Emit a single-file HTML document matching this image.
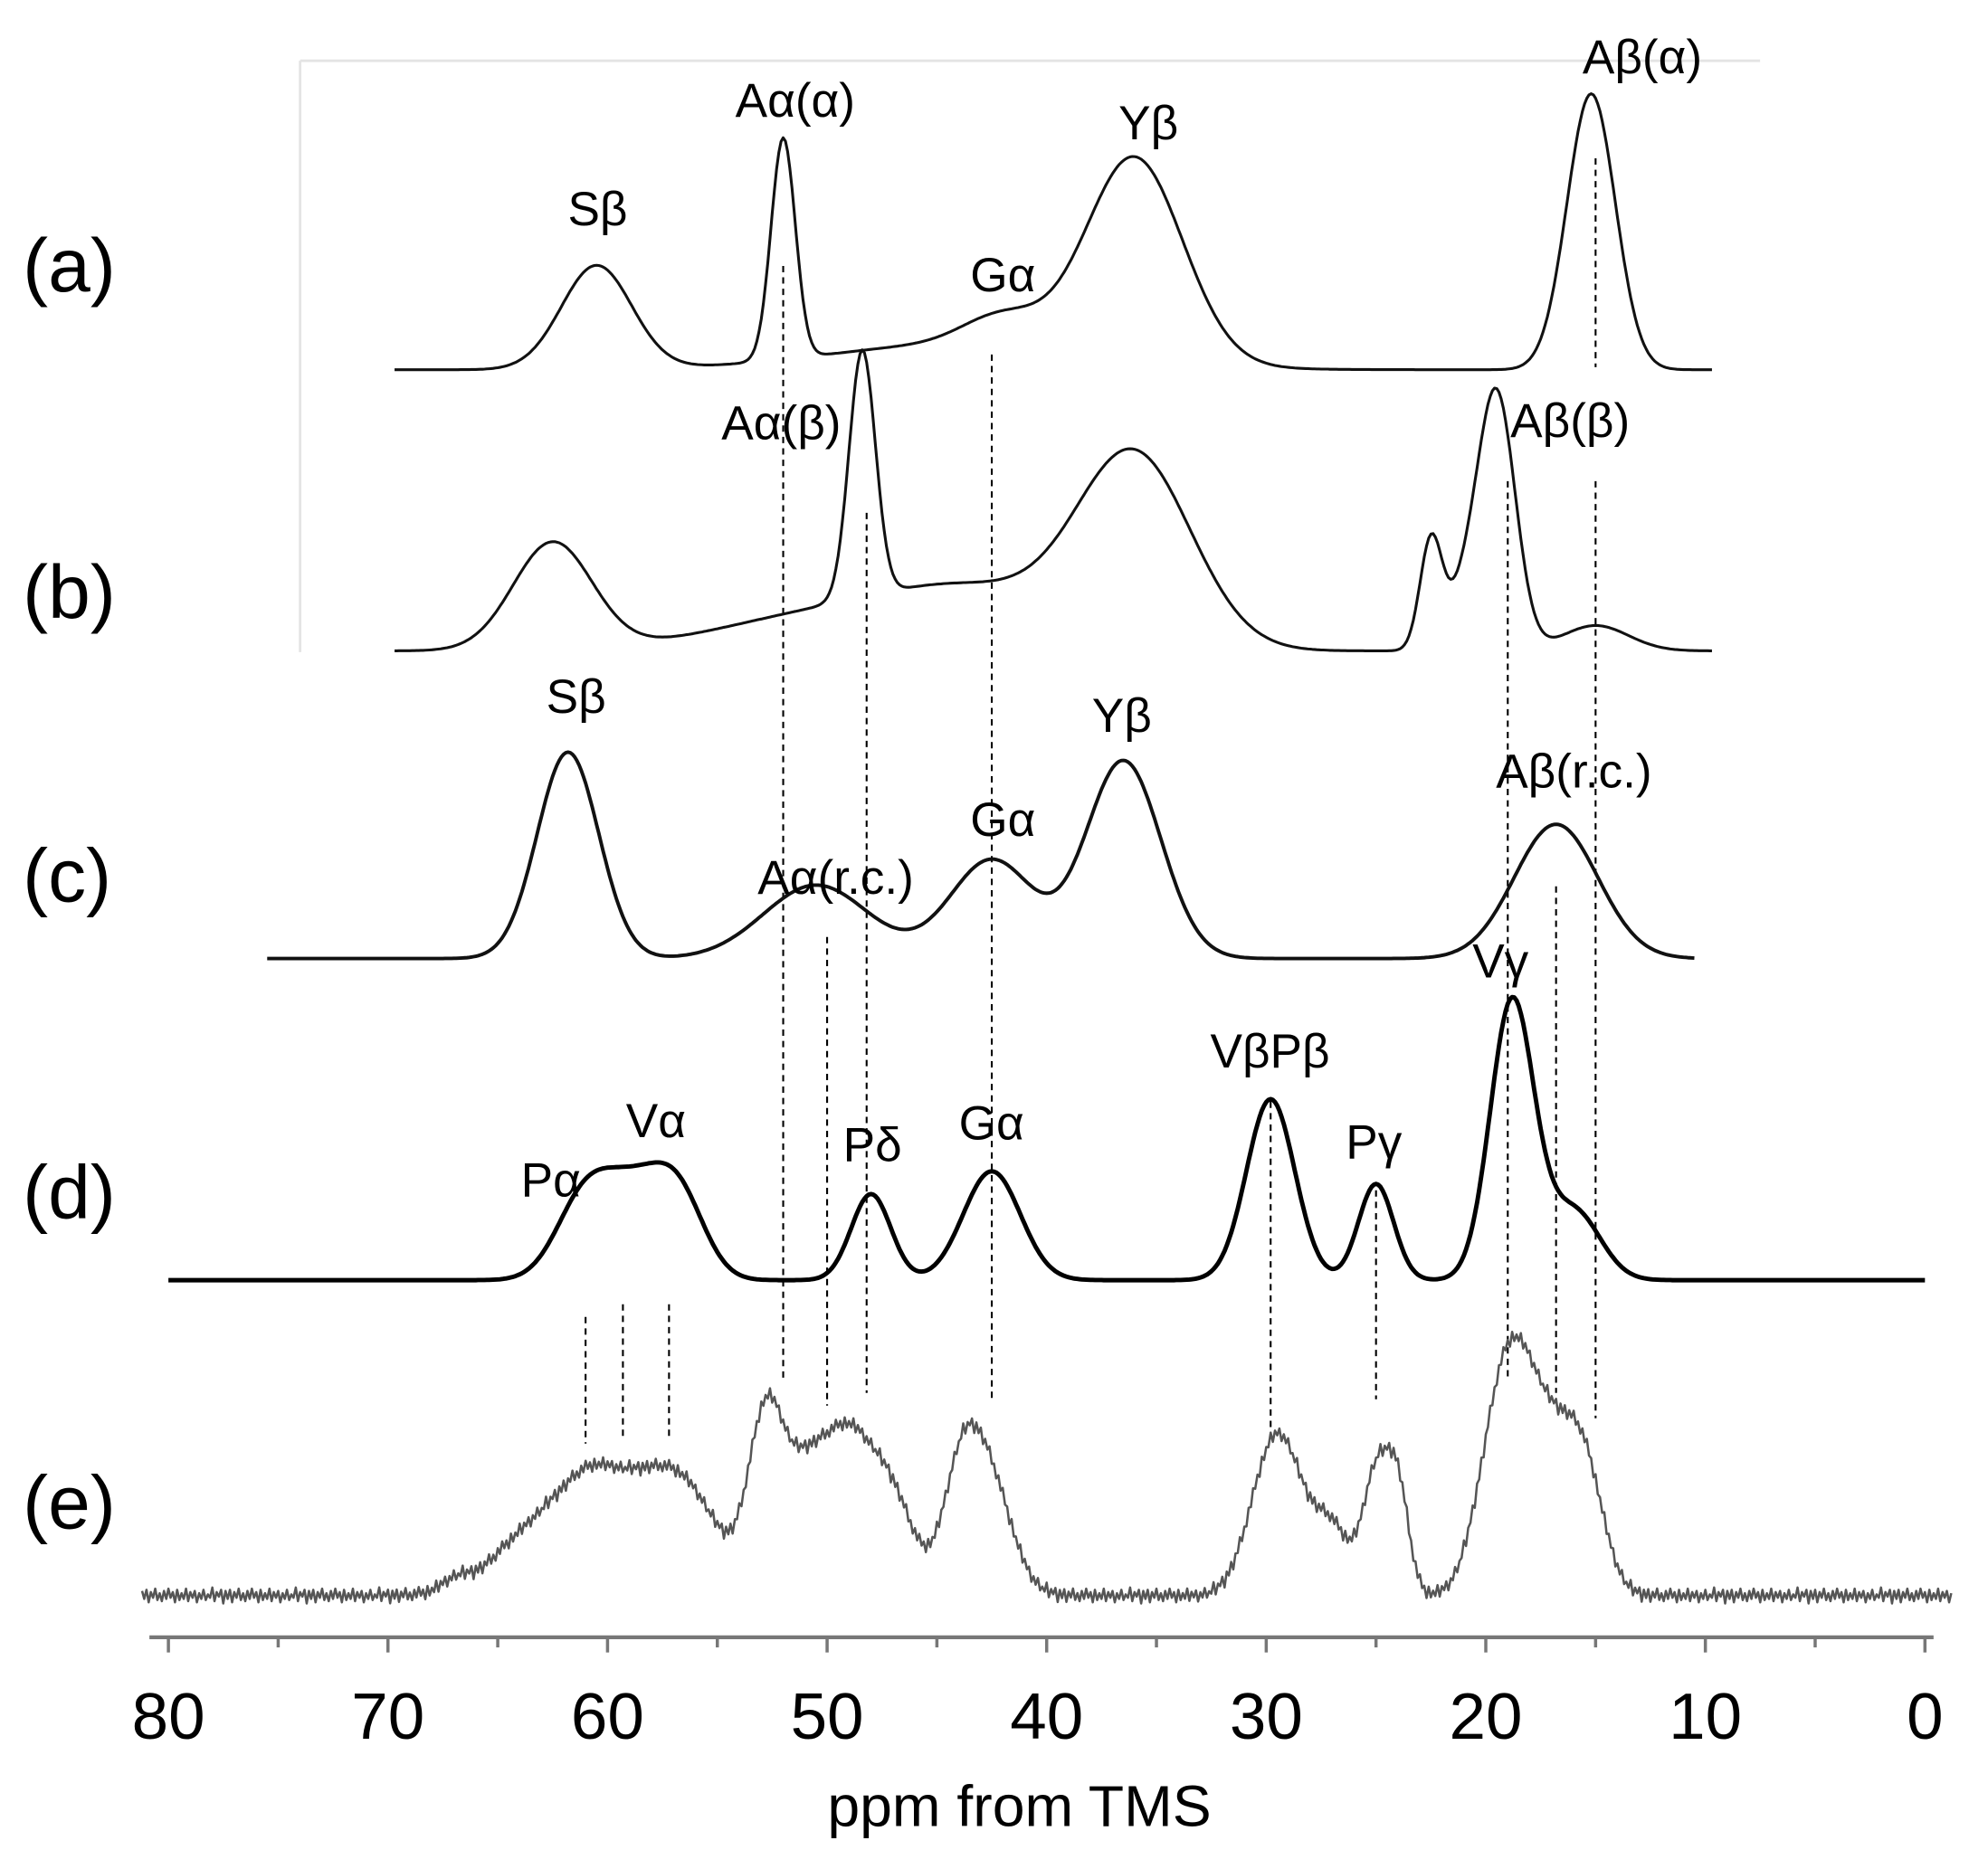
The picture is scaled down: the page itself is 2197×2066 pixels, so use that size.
<!DOCTYPE html>
<html><head><meta charset="utf-8"><style>
html,body{margin:0;padding:0;background:#fff;}
svg{display:block;}
text{font-family:"Liberation Sans","DejaVu Sans",sans-serif;fill:#000;}
</style></head>
<body>
<svg id="chart" width="2197" height="2066" viewBox="0 0 1570 1476" preserveAspectRatio="none" xmlns="http://www.w3.org/2000/svg">
<line x1="237" y1="48" x2="1390" y2="48" stroke="#e4e4e4" stroke-width="2"/>
<line x1="237" y1="48" x2="237" y2="515" stroke="#e4e4e4" stroke-width="2"/>
<g id="guides"></g>
<g id="spectra"></g>
<g id="axis"></g>
<g id="labels"></g>
</svg>
<script>
// axis data
const tickValues = [80,70,60,50,40,30,20,10,0];
const minorTicks = [75,65,55,45,35,25,15,5];
// spectrum (a)
const aCenters = [60.5, 52, 44, 42, 36, 15.2];
const aHeights = [82, 175, 20, 24, 160, 218];
const aWidths  = [1.6, 0.55, 6, 1.8, 2.2, 1.1];
// spectrum (b)
const bCenters = [62.5, 50, 48.4, 43, 36, 22.5, 21, 19.5, 15];
const bHeights = [85, 28, 195, 40, 150, 85, 40, 200, 20];
const bWidths  = [1.8, 5, 0.6, 4, 2.6, 0.5, 0.8, 0.85, 1.5];
// spectrum (c)
const cCenters = [61.8, 50.5, 42.5, 36.5, 16.8];
const cHeights = [163, 58, 78, 156, 106];
const cWidths  = [1.4, 2.4, 1.9, 1.7, 1.9];
// spectrum (d)
const dCenters = [61, 58.8, 56.8, 48, 42.5, 29.8, 25, 18.8, 16];
const dHeights = [66, 58, 66, 68, 86, 143, 76, 220, 55];
const dWidths  = [1.3, 1.3, 1.2, 0.9, 1.3, 1.1, 0.8, 1.0, 1.2];
// spectrum (e)
const eCenters = [67, 63, 60.5, 58, 56, 52.8, 51, 49, 47, 44, 42.8, 30, 29, 27, 25, 24, 19.5, 18.5, 17, 15.5];
const eHeights = [8, 55, 65, 65, 60, 135, 85, 115, 70, 65, 100, 70, 75, 50, 95, 80, 100, 105, 95, 85];
const eWidths  = [0.6, 2, 1.4, 1.4, 1.4, 0.8, 1.0, 1.1, 1.0, 0.8, 1.1, 1.0, 1.0, 0.8, 0.6, 0.5, 1.0, 1.0, 1.1, 0.9];
const eRipple = [4,-3,5,-6,3,-2,6,-4,2,-5,4,-3,6,-2,3,-6,5,-4,2,-3,6,-5,3,-2,4,-6,2,-3,5,-4,1,-2,7,-5,3,-1,5,-7];

const NS="http://www.w3.org/2000/svg";
const X0=133, PX=17.34; // ppm 80 -> 133
function xs(p){return X0+(80-p)*PX;}
function mk(tag,attrs,parent){const e=document.createElementNS(NS,tag);for(const k in attrs)e.setAttribute(k,attrs[k]);parent.appendChild(e);return e;}
const spectra=document.getElementById('spectra');
function drawSpec(name,C,H,W,base,p0,p1,stroke,sw,ripple){
  let d='';let i=0;
  for(let p=p0;p>=p1-1e-9;p-=0.1){
    let y=0;for(let k=0;k<C.length;k++){y+=H[k]*Math.exp(-0.5*Math.pow((p-C[k])/W[k],2));}
    if(ripple){y+=ripple[i%ripple.length]*0.9;}
    d+=(i?'L':'M')+xs(p).toFixed(1)+','+(base-y).toFixed(1);i++;
  }
  const el=mk('path',{d:d,fill:'none',stroke:stroke,'stroke-width':sw,'stroke-linejoin':'round'},spectra);
  
  
}
drawSpec('spectrum-a',aCenters,aHeights,aWidths,292,69.7,9.7,'#111',2.2);
drawSpec('spectrum-b',bCenters,bHeights,bWidths,514,69.7,9.7,'#111',2.2);
drawSpec('spectrum-c',cCenters,cHeights,cWidths,757,75.5,10.5,'#111',2.8);
drawSpec('spectrum-d',dCenters,dHeights,dWidths,1011,80,0,'#000',3.5);
drawSpec('spectrum-e',eCenters,eHeights,eWidths,1260,81.2,-1.2,'#555',1.8,eRipple);

// dashed guides: ppm, y1, y2
const guidePpm=[52,42.5,48.2,19,15,15,50,16.8,61,59.3,57.2,29.8,25];
const guideY1=[210,280,405,380,380,125,740,700,1040,1030,1030,870,940];
const guideY2=[1090,1105,1100,1090,1120,290,1110,1100,1140,1135,1135,1140,1105];
const gg=document.getElementById('guides');
for(let i=0;i<guidePpm.length;i++){
  const l=mk('line',{x1:xs(guidePpm[i]),x2:xs(guidePpm[i]),y1:guideY1[i],y2:guideY2[i],stroke:'#000','stroke-width':1.5,'stroke-dasharray':'5,4'},gg);
  
  
}

// axis
const ax=document.getElementById('axis');
const al=mk('line',{x1:118,x2:1527,y1:1293,y2:1293,stroke:'#777','stroke-width':3},ax);


tickValues.forEach(v=>{
  const t=mk('line',{x1:xs(v),x2:xs(v),y1:1293,y2:1305,stroke:'#777','stroke-width':2.5},ax);
  
  
  const tx=mk('text',{x:xs(v),y:1373,'font-size':52,'text-anchor':'middle'},ax);
  tx.textContent=v;
  
  
});
minorTicks.forEach(v=>{
  const t=mk('line',{x1:xs(v),x2:xs(v),y1:1293,y2:1301,stroke:'#777','stroke-width':2.5},ax);
  
  
});
const xt=mk('text',{x:805,y:1442,'font-size':46,'text-anchor':'middle'},ax);
xt.textContent='ppm from TMS';



// labels
const lg=document.getElementById('labels');
const panelText=['(a)','(b)','(c)','(d)','(e)'];
const panelY=[230,488,712,962,1207];
panelText.forEach((t,i)=>{
  const e=mk('text',{x:18,y:panelY[i],'font-size':60},lg);e.textContent=t;
  
  
});
const peakText=['Sβ','Aα(α)','Gα','Yβ','Aβ(α)','Aα(β)','Aβ(β)','Sβ','Aα(r.c.)','Gα','Yβ','Aβ(r.c.)','Vγ','VβPβ','Pα','Vα','Pδ','Gα','Pγ'];
const peakX=[472,628,792,907,1297,617,1240,455,660,792,886,1243,1185,1003,435,518,689,783,1085];
const peakY=[178,92,230,110,58,347,345,563,706,660,578,622,772,843,945,898,917,900,915];
peakText.forEach((t,i)=>{
  const e=mk('text',{x:peakX[i],y:peakY[i],'font-size':38,'text-anchor':'middle'},lg);e.textContent=t;
  
  
});
</script>
</body></html>
